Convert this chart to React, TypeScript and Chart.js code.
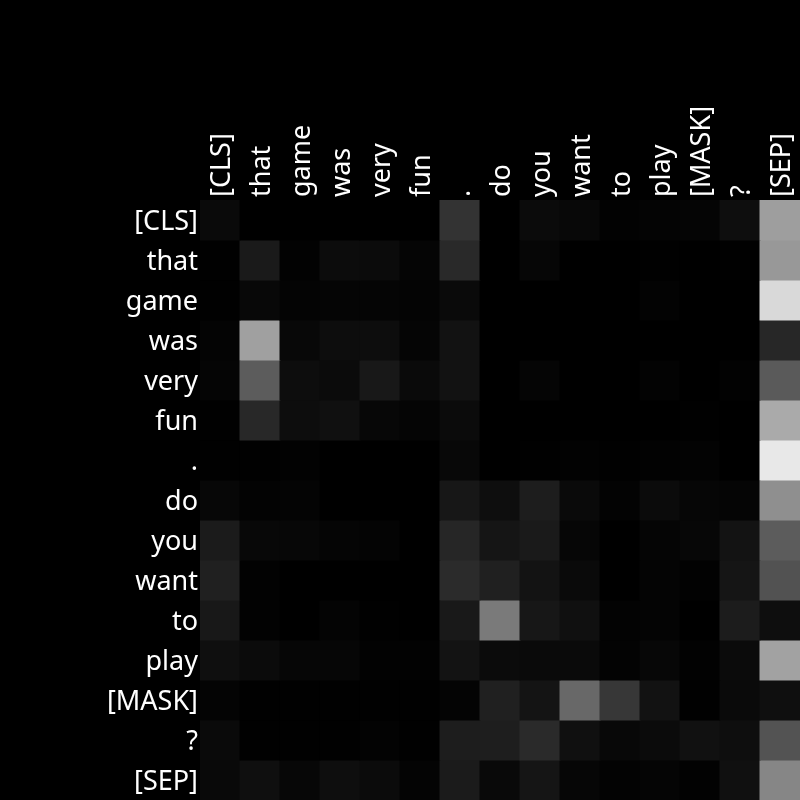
import React, { useEffect, useRef } from "react";
import { Chart, registerables } from "chart.js";

Chart.register(...registerables);

const tokens = ["[CLS]", "that", "game", "was", "very", "fun", ".", "do", "you", "want", "to", "play", "[MASK]", "?", "[SEP]"];

// attention intensity per row (query token) across columns (key tokens), 0-255 gray
const attention: number[][] = [
  [10, 0, 0, 0, 0, 0, 51, 0, 11, 8, 2, 4, 5, 14, 158],
  [1, 26, 2, 12, 11, 5, 41, 0, 6, 0, 0, 1, 0, 1, 152],
  [1, 8, 4, 5, 5, 4, 10, 0, 0, 0, 0, 3, 0, 0, 217],
  [4, 160, 8, 13, 13, 5, 18, 0, 0, 0, 0, 0, 0, 0, 39],
  [5, 92, 13, 11, 24, 10, 18, 0, 5, 0, 0, 3, 0, 2, 90],
  [1, 40, 13, 16, 7, 5, 11, 0, 0, 0, 0, 0, 1, 0, 170],
  [1, 1, 2, 0, 0, 0, 8, 0, 1, 2, 1, 2, 3, 0, 232],
  [7, 3, 4, 0, 0, 0, 23, 14, 29, 10, 3, 11, 6, 5, 143],
  [27, 8, 7, 5, 4, 0, 38, 21, 26, 6, 0, 5, 7, 19, 92],
  [32, 2, 0, 0, 0, 0, 43, 32, 19, 10, 0, 4, 2, 21, 82],
  [24, 2, 0, 4, 1, 0, 25, 122, 23, 16, 3, 4, 0, 28, 14],
  [15, 11, 6, 6, 2, 2, 19, 11, 10, 10, 3, 7, 2, 11, 162],
  [4, 1, 1, 1, 1, 1, 4, 32, 20, 104, 55, 18, 1, 10, 15],
  [10, 1, 1, 1, 3, 1, 29, 30, 42, 16, 8, 11, 17, 14, 83],
  [9, 15, 7, 14, 11, 4, 27, 9, 21, 6, 3, 5, 2, 16, 134],
];

const gray = (v: number) => `rgb(${v},${v},${v})`;

const labelPlugin = {
  id: "tokenLabels",
  afterDraw(chart: any) {
    const { ctx, scales, chartArea } = chart;
    const xs = scales.x;
    const ys = scales.y;
    ctx.save();
    ctx.fillStyle = "#ffffff";
    ctx.font = "27px 'Noto Sans'";
    ctx.textBaseline = "alphabetic";
    // left labels (rows)
    ctx.textAlign = "right";
    tokens.forEach((t, i) => {
      const y = ys.getPixelForValue(i + 0.5);
      ctx.fillText(t, chartArea.left - 2, y + 10);
    });
    // top labels (columns), rotated
    ctx.textAlign = "left";
    tokens.forEach((t, i) => {
      const x = xs.getPixelForValue(i);
      ctx.save();
      ctx.translate(x + 10, chartArea.top - 3);
      ctx.rotate(-Math.PI / 2);
      ctx.fillText(t, 0, 0);
      ctx.restore();
    });
    ctx.restore();
  },
};

export default function App() {
  const ref = useRef<HTMLCanvasElement | null>(null);

  useEffect(() => {
    if (!ref.current) return;
    const chart = new Chart(ref.current, {
      type: "bar",
      data: {
        labels: tokens,
        datasets: attention.map((row, i) => ({
          label: tokens[i],
          data: row.map(() => 1),
          backgroundColor: row.map(gray),
          borderWidth: 0,
          barPercentage: 1,
          categoryPercentage: 1,
          stack: "s",
          inflateAmount: 0.5,
        })),
      },
      options: {
        responsive: false,
        animation: false,
        layout: { padding: { left: 200, top: 200, right: 0, bottom: 0 } },
        plugins: { legend: { display: false }, tooltip: { enabled: false } },
        scales: {
          x: {
            stacked: true,
            display: false,
          },
          y: {
            type: "linear",
            stacked: true,
            min: 0,
            max: tokens.length,
            reverse: true,
            display: false,
          },
        } as any,
      },
      plugins: [labelPlugin],
    });
    return () => chart.destroy();
  }, []);

  return (
    <div style={{ position: "fixed", left: 0, top: 0, width: 800, height: 800, background: "#000" }}>
      <canvas ref={ref} width={800} height={800} />
    </div>
  );
}
